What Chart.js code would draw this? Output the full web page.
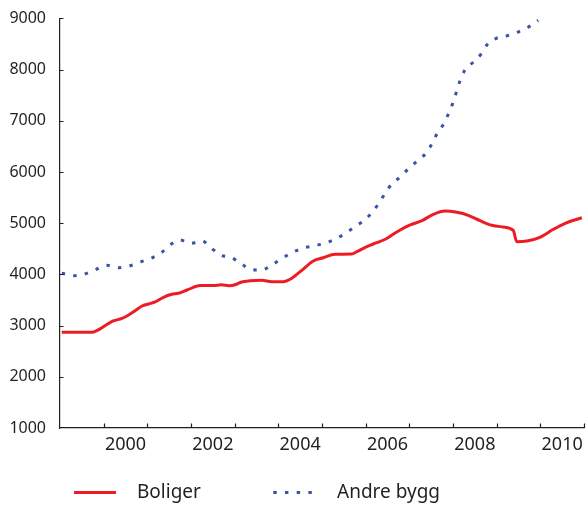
<!DOCTYPE html>
<html>
<head>
<meta charset="utf-8">
<script src="https://cdn.jsdelivr.net/npm/chart.js@4/dist/chart.umd.min.js"></script>
<style>
  html, body { margin: 0; padding: 0; background: #ffffff; }
  #wrap { position: relative; width: 587px; height: 506px; font-family: "Noto Sans", sans-serif; color: #231f20; }
  #chart { position: absolute; left: 0; top: 0; }
  .leg-line { position: absolute; }
  .leg-text { position: absolute; font-size: 19px; line-height: 1; white-space: nowrap; }
</style>
</head>
<body>
<div id="wrap">
  <canvas id="chart" width="587" height="506"></canvas>
  <svg class="leg-line" style="left:72px; top:487px;" width="48" height="12">
    <line x1="2" y1="5.5" x2="44" y2="5.5" stroke="#ed1c24" stroke-width="3"/>
  </svg>
  <span class="leg-text" style="left:137px; top:482px;">Boliger</span>
  <svg class="leg-line" style="left:271px; top:487px;" width="48" height="12">
    <line x1="2.3" y1="5.5" x2="41" y2="5.5" stroke="#3a53a4" stroke-width="3" stroke-dasharray="3.4 8.3"/>
  </svg>
  <span class="leg-text" style="left:337px; top:482px;">Andre bygg</span>
</div>
<script>
// Index values, read per point as (decimal year, value)
const boligerYears = [1999.04, 1999.73, 1999.84, 2000.03, 2000.22, 2000.42, 2000.57, 2000.72, 2000.88,
  2001.03, 2001.18, 2001.37, 2001.56, 2001.71, 2001.91, 2002.21, 2002.51, 2002.69, 2002.88,
  2003.01, 2003.16, 2003.35, 2003.62, 2003.85, 2004.12, 2004.27, 2004.5, 2004.8, 2005.03,
  2005.3, 2005.68, 2005.8, 2005.99, 2006.25, 2006.45, 2006.64, 2006.79, 2007.02, 2007.29,
  2007.55, 2007.82, 2008.09, 2008.35, 2008.62, 2008.89, 2009.15, 2009.38, 2009.46, 2009.69,
  2009.99, 2010.3, 2010.57, 2010.95];
const boligerValues = [2869, 2869, 2900, 2998, 3090, 3142, 3207, 3291, 3383,
  3422, 3461, 3553, 3611, 3631, 3695, 3783, 3783, 3796, 3780,
  3799, 3852, 3874, 3885, 3858, 3858, 3904, 4053, 4262, 4326,
  4393, 4398, 4443, 4529, 4619, 4686, 4789, 4867, 4965, 5049,
  5174, 5238, 5213, 5154, 5049, 4959, 4926, 4861, 4639, 4652,
  4725, 4881, 4998, 5107];

const andreYears = [1999.04, 1999.33, 1999.59, 1999.83, 2000.07, 2000.34, 2000.59, 2000.84,
  2001.08, 2001.32, 2001.51, 2001.74, 2002.0, 2002.25, 2002.46, 2002.67, 2002.92,
  2003.14, 2003.36, 2003.62, 2003.85, 2004.08, 2004.31, 2004.55, 2004.8, 2005.06,
  2005.3, 2005.53, 2005.74, 2005.96, 2006.15, 2006.31, 2006.45, 2006.6, 2006.8,
  2006.99, 2007.18, 2007.38, 2007.52, 2007.64, 2007.79, 2007.9, 2008.0, 2008.08,
  2008.16, 2008.27, 2008.46, 2008.64, 2008.78, 2008.99, 2009.24, 2009.49, 2009.73, 2009.95];
const andreValues = [4021, 3975, 4014, 4100, 4178, 4131, 4164, 4242,
  4314, 4424, 4568, 4672, 4607, 4655, 4518, 4379, 4330,
  4217, 4100, 4086, 4184, 4307, 4424, 4510, 4555, 4607,
  4691, 4795, 4926, 5049, 5213, 5400, 5590, 5768, 5908,
  6072, 6215, 6365, 6553, 6756, 6943, 7146, 7353, 7568,
  7783, 7986, 8143, 8299, 8486, 8611, 8662, 8734, 8832, 8963];

// Axis marks and labels
const yearMarks = [2000, 2001, 2002, 2003, 2004, 2005, 2006, 2007, 2008, 2009, 2010, 2011];
const yearLabels = [2000, 2002, 2004, 2006, 2008, 2010];
const valueTicks = [1000, 2000, 3000, 4000, 5000, 6000, 7000, 8000, 9000];

const INK = '#231f20';
const RED = '#ed1c24';
const BLUE = '#3a53a4';

const toPoints = (xs, ys) => xs.map((x, i) => ({ x: x, y: ys[i] }));

// Short tick marks pointing into the plot area
const innerTicks = {
  id: 'innerTicks',
  afterDraw(chart) {
    const { ctx, chartArea, scales } = chart;
    ctx.save();
    ctx.strokeStyle = INK;
    ctx.lineWidth = 1.2;
    ctx.beginPath();
    yearMarks.forEach(yr => {
      const px = Math.round(scales.x.getPixelForValue(yr)) + 0.5;
      ctx.moveTo(px, chartArea.bottom);
      ctx.lineTo(px, chartArea.bottom - 4.5);
    });
    valueTicks.slice(1).forEach(v => {
      const py = Math.round(scales.y.getPixelForValue(v)) + 0.5;
      ctx.moveTo(chartArea.left, py);
      ctx.lineTo(chartArea.left + 3.5, py);
    });
    ctx.stroke();
    ctx.restore();
  }
};

new Chart(document.getElementById('chart'), {
  type: 'line',
  data: {
    datasets: [
      {
        label: 'Boliger',
        data: toPoints(boligerYears, boligerValues),
        borderColor: RED,
        borderWidth: 3,
        pointRadius: 0,
        cubicInterpolationMode: 'monotone',
        fill: false
      },
      {
        label: 'Andre bygg',
        data: toPoints(andreYears, andreValues),
        borderColor: BLUE,
        borderWidth: 3,
        borderDash: [3.4, 8.3],
        borderCapStyle: 'butt',
        pointRadius: 0,
        cubicInterpolationMode: 'monotone',
        fill: false
      }
    ]
  },
  options: {
    responsive: false,
    animation: false,
    devicePixelRatio: 1,
    layout: { padding: { left: 0, right: 3, top: 18.4, bottom: 34 } },
    plugins: { legend: { display: false }, tooltip: { enabled: false } },
    scales: {
      x: {
        type: 'linear',
        min: 1999,
        max: 2011,
        grid: { display: false, drawTicks: false },
        border: { display: true, color: INK, width: 1.2 },
        afterBuildTicks: scale => { scale.ticks = yearLabels.map(y => ({ value: y + 0.5 })); },
        afterFit: scale => { scale.height = 44; scale.paddingLeft = 0; scale.paddingRight = 0; },
        ticks: {
          autoSkip: false,
          maxRotation: 0,
          padding: 6,
          color: INK,
          font: { family: 'Noto Sans', size: 18 },
          callback: v => String(Math.floor(v))
        }
      },
      y: {
        min: 1000,
        max: 9000,
        grid: { display: false, drawTicks: false },
        border: { display: true, color: INK, width: 1.2 },
        afterBuildTicks: scale => { scale.ticks = valueTicks.map(v => ({ value: v })); },
        afterFit: scale => { scale.width = 60; scale.paddingTop = 0; scale.paddingBottom = 0; },
        ticks: {
          padding: 14,
          color: INK,
          font: { family: 'Noto Sans', size: 16 },
          callback: v => String(v)
        }
      }
    }
  },
  plugins: [innerTicks]
});
</script>
</body>
</html>
